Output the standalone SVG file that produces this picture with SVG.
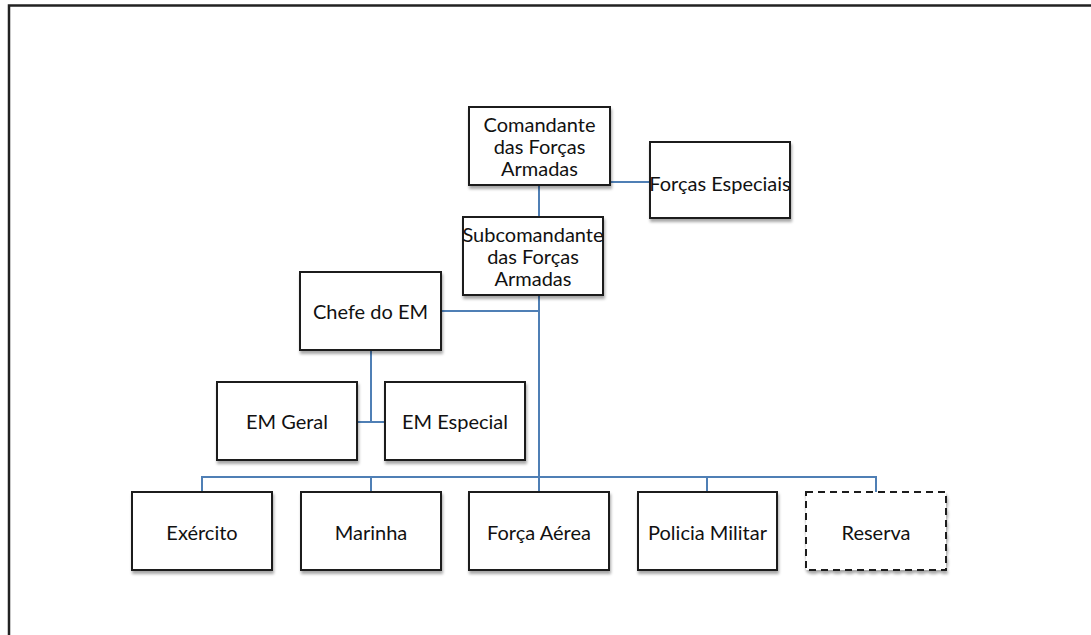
<svg xmlns="http://www.w3.org/2000/svg" width="1091" height="635" viewBox="0 0 1091 635">
<defs>
<filter id="sh" x="-10%" y="-10%" width="125%" height="130%">
<feGaussianBlur in="SourceAlpha" stdDeviation="1.5"/>
<feOffset dx="1" dy="3" result="b"/>
<feComponentTransfer><feFuncA type="linear" slope="0.35"/></feComponentTransfer>
<feMerge><feMergeNode/><feMergeNode in="SourceGraphic"/></feMerge>
</filter>
</defs>
<style>
.box{fill:#fff;stroke:#1e1e1e;stroke-width:2;filter:url(#sh)}
.dash{stroke-dasharray:7,5}
.t{font-family:Lato,"Open Sans",sans-serif;font-size:20px;fill:#111;text-anchor:middle}
.c{fill:none;stroke:#4f7fb5;stroke-width:2}
</style>
<rect width="1091" height="635" fill="#fff"/>
<path d="M9,635 V5.5 H1091" fill="none" stroke="#222" stroke-width="2.5"/>
<g id="connectors">
<path class="c" d="M539,185 V217"/>
<path class="c" d="M610,182 H650"/>
<path class="c" d="M539,295 V492"/>
<path class="c" d="M441,311 H539"/>
<path class="c" d="M371,350 V422"/>
<path class="c" d="M357,422 H385"/>
<path class="c" d="M202,492 V477 H876 V492"/>
<path class="c" d="M371,477 V492"/>
<path class="c" d="M707,477 V492"/>
</g>
<g id="comandante"><rect class="box" x="469" y="107" width="141" height="78"/>
<text class="t" x="539.5" y="132">Comandante</text><text class="t" x="539.5" y="154">das Forças</text><text class="t" x="539.5" y="176">Armadas</text></g>
<g id="forcas-especiais"><rect class="box" x="650" y="142" width="140" height="76"/>
<text class="t" x="720" y="191">Forças Especiais</text></g>
<g id="subcomandante"><rect class="box" x="463" y="217" width="140" height="78"/>
<text class="t" x="533" y="242">Subcomandante</text><text class="t" x="533" y="264">das Forças</text><text class="t" x="533" y="286">Armadas</text></g>
<g id="chefe-em"><rect class="box" x="300" y="272" width="141" height="78"/>
<text class="t" x="370.5" y="319">Chefe do EM</text></g>
<g id="em-geral"><rect class="box" x="217" y="382" width="140" height="78"/>
<text class="t" x="287" y="429">EM Geral</text></g>
<g id="em-especial"><rect class="box" x="385" y="382" width="140" height="78"/>
<text class="t" x="455" y="429">EM Especial</text></g>
<g id="exercito"><rect class="box" x="132" y="492" width="140" height="78"/>
<text class="t" x="202" y="540">Exército</text></g>
<g id="marinha"><rect class="box" x="301" y="492" width="140" height="78"/>
<text class="t" x="371" y="540">Marinha</text></g>
<g id="forca-aerea"><rect class="box" x="469" y="492" width="140" height="78"/>
<text class="t" x="539" y="540">Força Aérea</text></g>
<g id="policia-militar"><rect class="box" x="638" y="492" width="139" height="78"/>
<text class="t" x="707.5" y="540">Policia Militar</text></g>
<g id="reserva"><rect class="box dash" x="806" y="492" width="140" height="78"/>
<text class="t" x="876" y="540">Reserva</text></g>
</svg>
